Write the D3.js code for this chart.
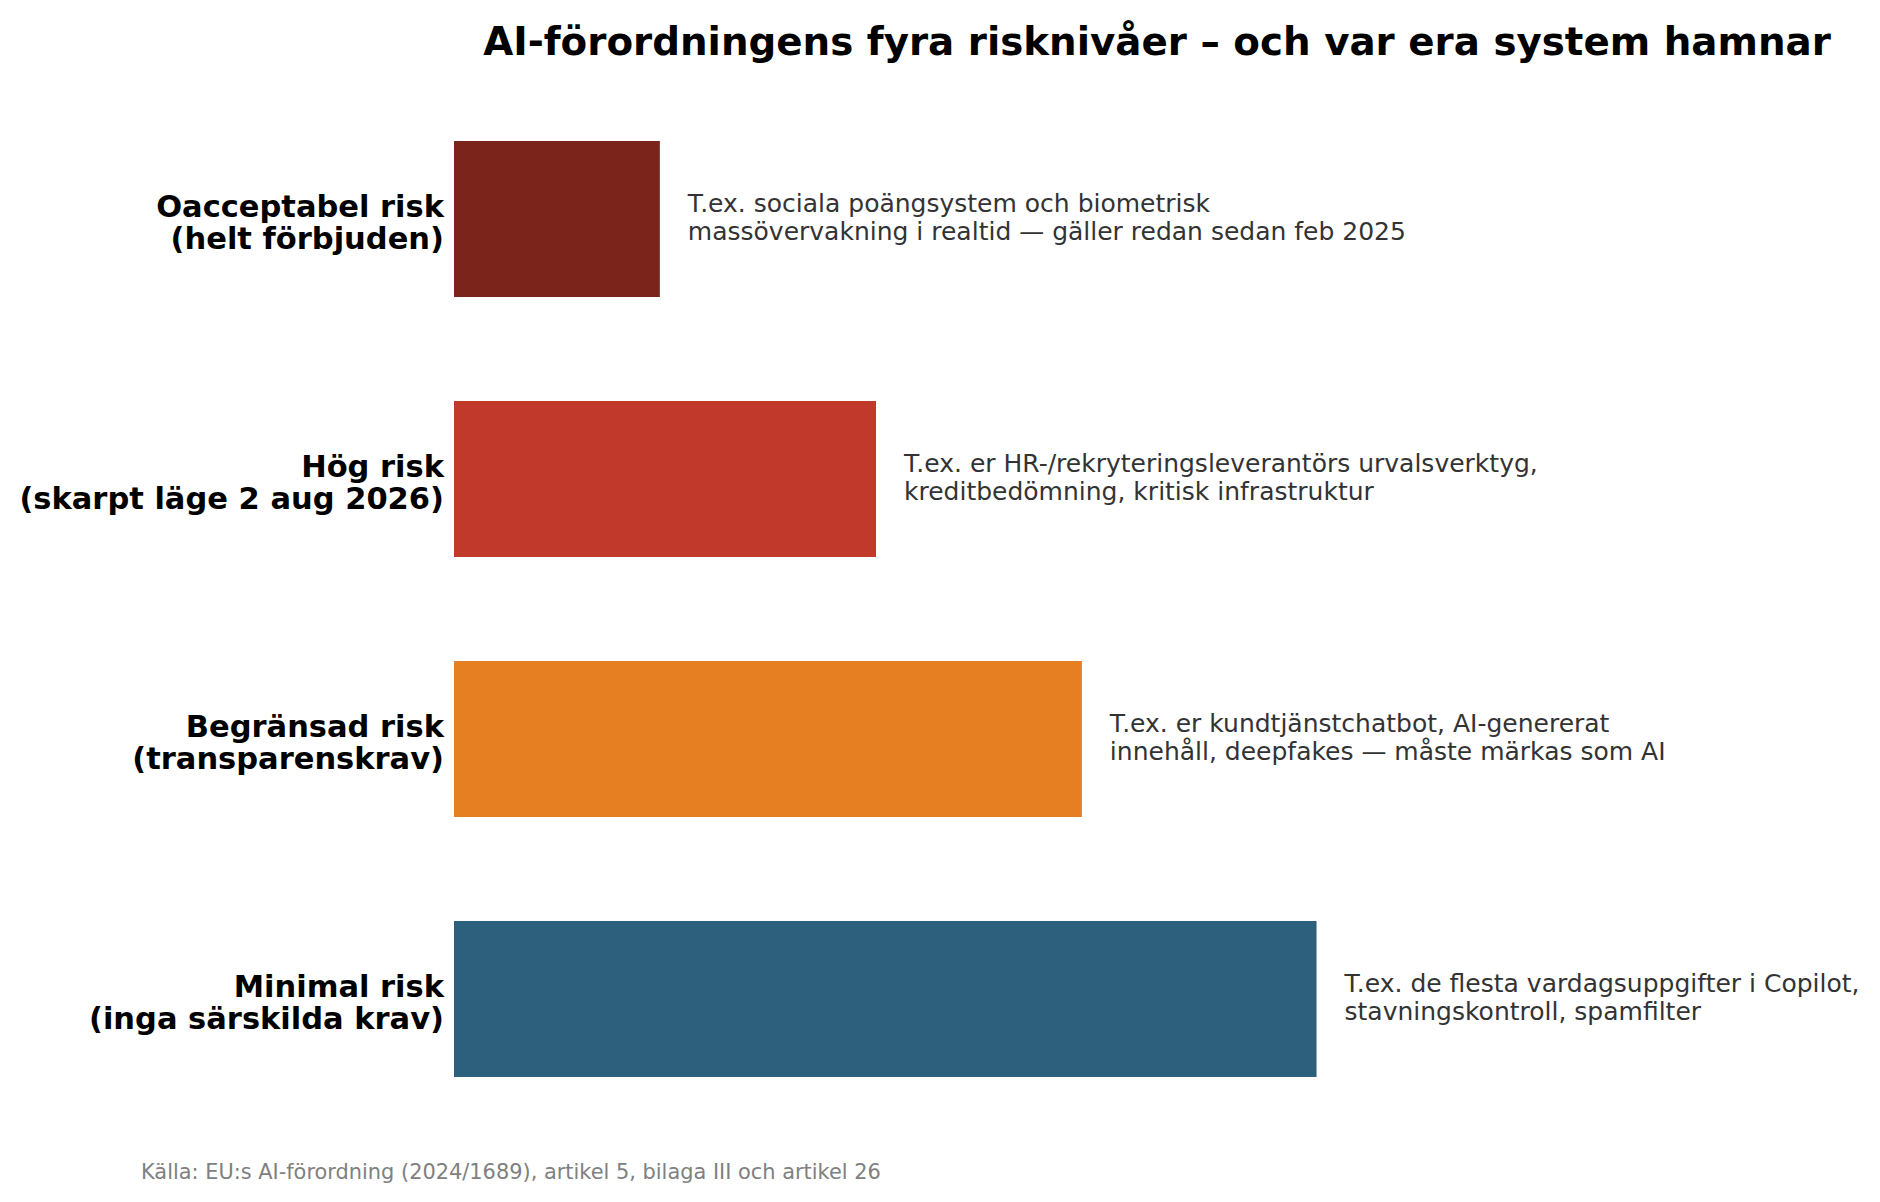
<!DOCTYPE html>
<html lang="sv">
<head>
<meta charset="utf-8">
<script src="https://cdn.jsdelivr.net/npm/d3@7"></script>
<style>
  html, body { margin: 0; padding: 0; background: #fff; }
  svg { display: block; font-family: "DejaVu Sans", sans-serif; }
</style>
</head>
<body>
<div id="chart"></div>
<script>
// Risknivåer – horisontella staplar med förklarande text

const levels = [
  ["Oacceptabel risk", "(helt förbjuden)"],
  ["Hög risk", "(skarpt läge 2 aug 2026)"],
  ["Begränsad risk", "(transparenskrav)"],
  ["Minimal risk", "(inga särskilda krav)"]
];
const values = [1.0, 2.05, 3.05, 4.19];
const colors = ["#7B241C", "#C0392B", "#E67E22", "#2C607C"];
const notes = [
  ["T.ex. sociala poängsystem och biometrisk", "massövervakning i realtid — gäller redan sedan feb 2025"],
  ["T.ex. er HR-/rekryteringsleverantörs urvalsverktyg,", "kreditbedömning, kritisk infrastruktur"],
  ["T.ex. er kundtjänstchatbot, AI-genererat", "innehåll, deepfakes — måste märkas som AI"],
  ["T.ex. de flesta vardagsuppgifter i Copilot,", "stavningskontroll, spamfilter"]
];
const title = "AI-förordningens fyra risknivåer – och var era system hamnar";
const source = "Källa: EU:s AI-förordning (2024/1689), artikel 5, bilaga III och artikel 26";

const W = 1880, H = 1202;
const m = { top: 89, right: 20, bottom: 73, left: 454 };
const innerW = W - m.left - m.right;
const innerH = H - m.top - m.bottom;

const svg = d3.select("#chart").append("svg").attr("width", W).attr("height", H);
const g = svg.append("g").attr("transform", `translate(${m.left},${m.top})`);

const keys = levels.map(d => d[0]);
const x = d3.scaleLinear().domain([0, 6.83]).range([0, innerW]);
const y = d3.scaleBand().domain(keys).range([0, innerH]).paddingInner(0.4).paddingOuter(0.2);

// Titel
svg.append("text")
  .attr("x", m.left + innerW / 2)
  .attr("y", 55)
  .attr("text-anchor", "middle")
  .style("font-size", "38.8px")
  .style("font-weight", "700")
  .style("fill", "#000")
  .text(title);

// Staplar
g.selectAll("rect.bar")
  .data(keys)
  .join("rect")
  .attr("class", "bar")
  .attr("x", x(0))
  .attr("y", d => y(d))
  .attr("width", (d, i) => x(values[i]) - x(0))
  .attr("height", y.bandwidth())
  .attr("fill", (d, i) => colors[i]);

// Kategorietiketter (två rader, högerställda)
const labelLine = 32;
g.selectAll("text.cat")
  .data(levels)
  .join("text")
  .attr("class", "cat")
  .attr("text-anchor", "end")
  .attr("x", -10)
  .attr("y", d => y(d[0]) + y.bandwidth() / 2)
  .style("font-size", "30.5px")
  .style("font-weight", "700")
  .style("fill", "#000")
  .each(function (d) {
    const t = d3.select(this);
    d.forEach((line, j) => {
      t.append("tspan")
        .attr("x", -10)
        .attr("dy", j === 0 ? -labelLine / 2 + 14 : labelLine)
        .text(line);
    });
  });

// Förklarande text till höger om stapeln
const noteLine = 28;
const gap = 28;
g.selectAll("text.note")
  .data(notes)
  .join("text")
  .attr("class", "note")
  .attr("x", (d, i) => x(values[i]) + gap)
  .attr("y", (d, i) => y(keys[i]) + y.bandwidth() / 2)
  .style("font-size", "25px")
  .style("fill", "#333")
  .each(function (d, i) {
    const t = d3.select(this);
    const x0 = x(values[i]) + gap;
    d.forEach((line, j) => {
      t.append("tspan")
        .attr("x", x0)
        .attr("dy", j === 0 ? -noteLine / 2 + 7 : noteLine)
        .text(line);
    });
  });

// Källa
svg.append("text")
  .attr("x", 141)
  .attr("y", 1179)
  .style("font-size", "20.9px")
  .style("fill", "#808080")
  .text(source);
</script>
</body>
</html>
